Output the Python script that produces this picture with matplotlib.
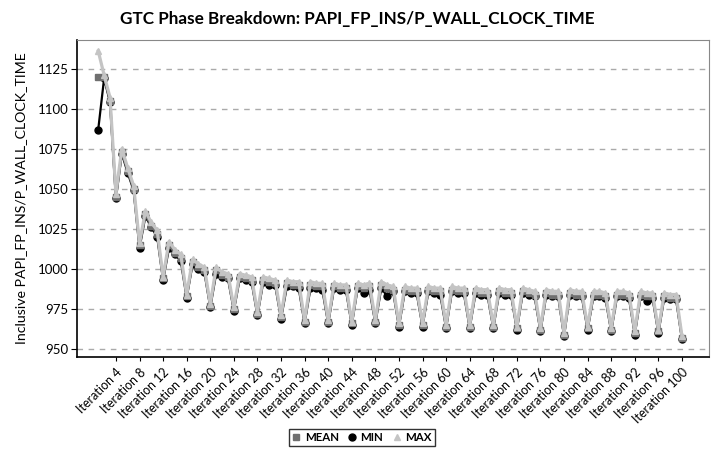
import matplotlib
matplotlib.use('Agg')
import matplotlib.pyplot as plt
from matplotlib.lines import Line2D
import numpy as np

plt.rcParams['font.family'] = ['Lato', 'DejaVu Sans']

iterations = list(range(1, 101))

mean_vals = [
    1120, 1120, 1105, 1045,
    1073, 1061, 1050, 1015,
    1034, 1027, 1022, 994,
    1015, 1010, 1007, 983,
    1004, 1001, 999, 977,
    999, 996, 995, 975,
    995, 994, 993, 972,
    993, 992, 991, 970,
    991, 990, 990, 967,
    990, 989, 989, 967,
    989, 988, 988, 966,
    989, 988, 989, 967,
    990, 988, 987, 965,
    987, 986, 986, 965,
    987, 986, 986, 964,
    987, 986, 986, 964,
    986, 985, 985, 964,
    986, 985, 985, 963,
    986, 985, 984, 962,
    985, 984, 984, 959,
    985, 984, 984, 963,
    984, 984, 983, 962,
    984, 984, 983, 960,
    984, 983, 983, 961,
    983, 982, 982, 957,
]

min_vals = [
    1087, 1119, 1104, 1044,
    1072, 1060, 1049, 1013,
    1033, 1026, 1020, 993,
    1013, 1009, 1005, 982,
    1003, 1000, 998, 976,
    997, 995, 994, 974,
    994, 993, 992, 971,
    992, 990, 990, 969,
    989, 989, 988, 966,
    988, 988, 987, 966,
    988, 987, 987, 965,
    988, 985, 987, 966,
    988, 983, 986, 964,
    986, 985, 985, 964,
    986, 985, 984, 963,
    986, 985, 985, 963,
    985, 984, 984, 963,
    985, 984, 984, 962,
    985, 984, 983, 961,
    984, 983, 983, 958,
    984, 983, 983, 962,
    983, 983, 982, 961,
    983, 983, 982, 959,
    983, 980, 982, 960,
    982, 981, 981, 956,
]

max_vals = [
    1136, 1121, 1107, 1047,
    1075, 1063, 1052, 1016,
    1036, 1029, 1024, 995,
    1017, 1012, 1009, 984,
    1006, 1003, 1001, 978,
    1001, 998, 997, 976,
    997, 996, 995, 973,
    995, 994, 993, 971,
    993, 992, 992, 968,
    992, 991, 991, 968,
    991, 990, 990, 967,
    991, 990, 991, 968,
    992, 990, 989, 966,
    989, 988, 988, 966,
    989, 988, 988, 965,
    989, 988, 988, 965,
    988, 987, 987, 965,
    988, 987, 987, 964,
    988, 987, 986, 963,
    987, 986, 986, 960,
    987, 986, 986, 964,
    986, 986, 985, 963,
    986, 986, 985, 961,
    986, 985, 985, 962,
    985, 984, 984, 958,
]

tick_iters = list(range(4, 101, 4))
tick_labels = ["Iteration %d" % i for i in tick_iters]
y_ticks = [950, 975, 1000, 1025, 1050, 1075, 1100, 1125]

c_mean = "#6f6f6f"
c_min = "#000000"
c_max = "#c4c4c4"

fig = plt.figure(figsize=(7.11, 4.53), dpi=100)
ax = fig.add_axes([0.1083, 0.212, 0.889, 0.7])

ax.plot(iterations, min_vals, color=c_min, lw=1.6, marker="o", ms=5, zorder=3)
ax.plot(iterations, mean_vals, color=c_mean, lw=1.8, marker="s", ms=4.5, zorder=4)
ax.plot(iterations, max_vals, color=c_max, lw=2.3, marker="^", ms=4.5, zorder=5)

ax.set_xlim(-2.6, 104.6)
ax.set_ylim(945, 1143)
ax.set_yticks(y_ticks)
ax.set_xticks(tick_iters)
ax.set_xticklabels(tick_labels, rotation=45, ha="right", rotation_mode="anchor", fontsize=9)
ax.tick_params(axis="y", labelsize=9.5, length=4, pad=2)
ax.tick_params(axis="x", length=3)
ax.yaxis.grid(True, linestyle=(0, (4, 4)), color="#aaaaaa", lw=1)
ax.set_axisbelow(True)

for s in ["top", "right"]:
    ax.spines[s].set_color("#888888")
ax.spines["left"].set_linewidth(1.2)
ax.spines["bottom"].set_linewidth(1.2)

ax.set_ylabel("Inclusive PAPI_FP_INS/P_WALL_CLOCK_TIME", fontsize=10.2, labelpad=8)
fig.text(0.502, 0.958, "GTC Phase Breakdown: PAPI_FP_INS/P_WALL_CLOCK_TIME",
         ha="center", va="center", fontsize=12.3, fontweight="bold")

handles = [
    Line2D([], [], color=c_mean, marker="s", ls="none", ms=5),
    Line2D([], [], color=c_min, marker="o", ls="none", ms=5),
    Line2D([], [], color=c_max, marker="^", ls="none", ms=5),
]
leg = fig.legend(handles, ["MEAN", "MIN", "MAX"], loc="center", bbox_to_anchor=(0.509, 0.035),
                 ncol=3, frameon=True, fancybox=False, handlelength=0.7,
                 handletextpad=0.4, columnspacing=0.8, borderpad=0.25,
                 prop={"weight": "bold", "size": 8.3})
leg.get_frame().set_edgecolor("black")
leg.get_frame().set_linewidth(1.0)

fig.savefig("out.png", dpi=100)
